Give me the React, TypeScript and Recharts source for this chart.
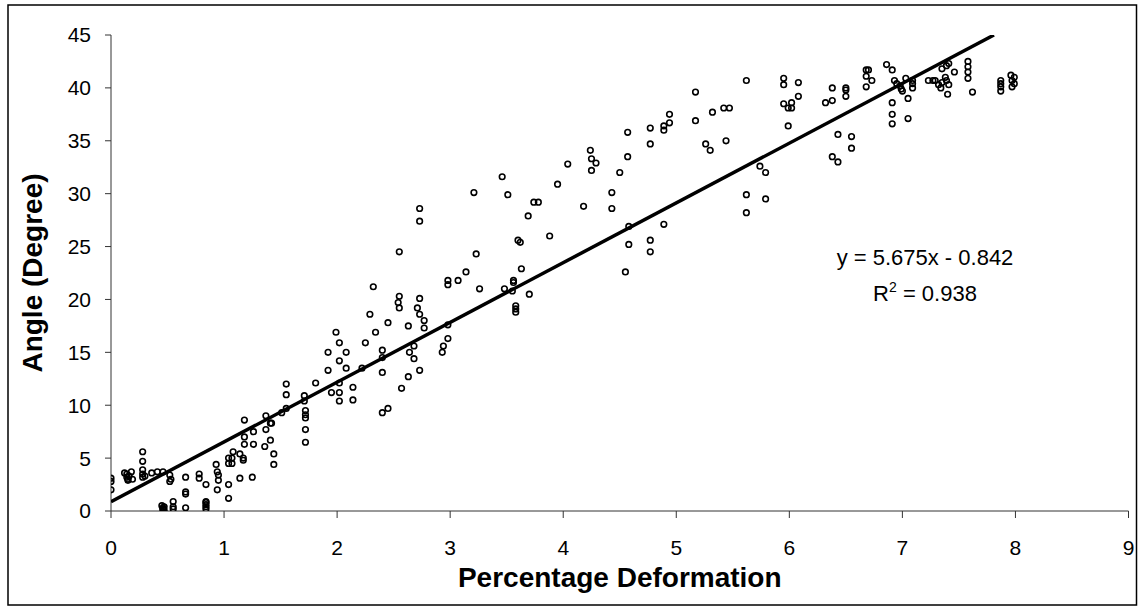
import React from "react";
import { ScatterChart, Scatter, XAxis, YAxis } from "recharts";

// [percentage deformation, angle in degrees]
const pointsLow: [number, number][] = [
  [0, 3.1], [0, 2.8], [0, 2.0],
  [0.12, 3.6], [0.14, 3.5], [0.14, 3.2], [0.15, 3.0], [0.16, 3.3], [0.15, 2.9], [0.18, 3.7], [0.19, 3.0],
  [0.28, 5.6], [0.28, 4.7], [0.28, 3.9], [0.28, 3.5], [0.28, 3.2], [0.30, 3.3],
  [0.36, 3.6], [0.41, 3.7], [0.46, 3.7], [0.52, 3.4], [0.53, 3.0], [0.52, 2.8],
  [0.46, 0.1], [0.46, 0.2], [0.46, 0.3], [0.47, 0.4], [0.45, 0.5], [0.47, 0.05],
  [0.55, 0.9], [0.55, 0.4], [0.55, 0.2],
  [0.66, 0.3], [0.66, 1.6], [0.66, 1.8], [0.66, 3.2],
  [0.78, 3.5], [0.78, 3.1], [0.84, 2.5],
  [0.84, 0.2], [0.84, 0.4], [0.84, 0.6], [0.84, 0.8], [0.84, 0.9],
  [0.93, 4.4], [0.94, 3.7], [0.95, 3.4], [0.95, 2.9], [0.94, 2.0],
];

const pointsMid: [number, number][] = [
  [1.04, 2.5], [1.04, 1.2], [1.04, 5.0], [1.04, 4.5], [1.07, 5.0], [1.07, 4.5], [1.08, 5.6],
  [1.14, 5.4], [1.14, 3.1], [1.17, 5.0], [1.17, 4.8], [1.18, 8.6], [1.18, 7.0], [1.18, 6.3],
  [1.25, 3.2], [1.26, 7.5], [1.26, 6.3],
  [1.37, 9.0], [1.37, 7.7], [1.36, 6.1], [1.41, 8.3], [1.42, 8.3], [1.41, 6.7], [1.44, 5.4], [1.44, 4.4],
  [1.51, 9.3], [1.55, 12.0], [1.55, 11.0], [1.55, 9.7],
  [1.71, 10.9], [1.71, 10.4], [1.72, 9.5], [1.72, 9.1], [1.72, 8.8], [1.72, 7.7], [1.72, 6.5],
  [1.81, 12.1], [1.92, 13.3], [1.92, 15.0], [1.95, 11.2], [1.99, 16.9],
  [2.02, 15.9], [2.02, 14.2], [2.02, 12.1], [2.02, 11.2], [2.02, 10.4], [2.08, 15.0], [2.08, 13.5],
  [2.14, 11.7], [2.14, 10.5], [2.22, 13.5], [2.25, 15.9], [2.29, 18.6], [2.32, 21.2], [2.34, 16.9],
  [2.40, 15.2], [2.40, 14.5], [2.40, 13.1], [2.40, 9.3], [2.45, 17.8], [2.45, 9.7],
  [2.55, 24.5], [2.55, 20.3], [2.54, 19.7], [2.55, 19.2], [2.57, 11.6], [2.63, 17.5], [2.63, 12.7],
  [2.64, 15.0], [2.68, 15.6], [2.68, 14.4], [2.73, 13.3], [2.73, 28.6], [2.73, 27.4], [2.73, 20.1],
  [2.71, 19.2], [2.73, 18.6], [2.77, 18.0], [2.77, 17.3],
  [2.93, 15.0], [2.94, 15.6], [2.98, 16.3], [2.98, 17.6], [2.98, 21.8], [2.98, 21.4],
];

const pointsUpperMid: [number, number][] = [
  [3.07, 21.8], [3.14, 22.6], [3.21, 30.1], [3.23, 24.3], [3.26, 21.0], [3.46, 31.6], [3.51, 29.9],
  [3.48, 21.0], [3.55, 20.8], [3.56, 21.8], [3.56, 21.6], [3.58, 19.4], [3.58, 19.1], [3.58, 18.8],
  [3.60, 25.6], [3.62, 25.4], [3.63, 22.9], [3.70, 20.5], [3.69, 27.9], [3.74, 29.2], [3.78, 29.2],
  [3.88, 26.0], [3.95, 30.9], [4.04, 32.8], [4.18, 28.8], [4.25, 33.3], [4.29, 32.9], [4.25, 32.2],
  [4.24, 34.1], [4.43, 30.1], [4.43, 28.6], [4.50, 32.0], [4.57, 33.5], [4.57, 35.8], [4.55, 22.6],
  [4.58, 25.2], [4.58, 26.9], [4.77, 36.2], [4.77, 34.7], [4.77, 25.6], [4.77, 24.5], [4.89, 27.1],
  [4.89, 36.4], [4.89, 36.0], [4.94, 37.5], [4.94, 36.7],
];

const pointsHigh: [number, number][] = [
  [5.17, 39.6], [5.17, 36.9], [5.26, 34.7], [5.30, 34.1], [5.32, 37.7], [5.44, 35.0], [5.42, 38.1],
  [5.47, 38.1], [5.62, 40.7], [5.62, 29.9], [5.62, 28.2], [5.74, 32.6], [5.79, 32.0], [5.79, 29.5],
  [5.95, 40.9], [5.95, 40.3], [6.08, 40.5], [6.08, 39.2], [5.95, 38.5], [5.99, 38.1], [6.02, 38.1],
  [6.02, 38.6], [5.99, 36.4], [6.32, 38.6], [6.38, 38.8], [6.38, 40.0], [6.43, 35.6], [6.38, 33.5],
  [6.43, 33.0], [6.50, 40.0], [6.50, 39.8], [6.50, 39.2], [6.55, 35.4], [6.55, 34.3],
  [6.68, 41.7], [6.70, 41.7], [6.68, 41.1], [6.73, 40.7], [6.68, 40.1], [6.86, 42.2], [6.91, 41.7],
  [6.91, 38.6], [6.91, 37.5], [6.91, 36.6], [6.93, 40.7], [6.95, 40.4], [6.98, 40.2], [6.99, 39.9],
  [7.00, 39.7], [7.03, 40.9], [7.09, 40.7], [7.09, 40.4], [7.09, 40.0], [7.05, 39.0], [7.05, 37.1],
  [7.23, 40.7], [7.27, 40.7], [7.29, 40.7], [7.32, 40.3], [7.34, 40.0], [7.35, 40.5], [7.35, 41.8],
  [7.38, 41.0], [7.39, 42.1], [7.41, 42.3], [7.39, 40.7], [7.41, 40.3], [7.40, 39.4], [7.46, 41.5],
  [7.58, 42.5], [7.58, 42.0], [7.58, 41.5], [7.58, 40.9], [7.62, 39.6],
  [7.87, 40.7], [7.87, 40.4], [7.87, 40.1], [7.87, 39.7], [7.96, 41.2], [7.99, 41.0], [7.97, 40.7],
  [7.99, 40.4], [7.97, 40.1],
];

// trend line as drawn (clipped at top of plot)
const trendX = [0, 7.81];
const trendY = [0.88, 45];

const xTicks = [0, 1, 2, 3, 4, 5, 6, 7, 8, 9];
const yTicks = [0, 5, 10, 15, 20, 25, 30, 35, 40, 45];

const xTitle = "Percentage Deformation";
const yTitle = "Angle (Degree)";
const equationText = "y = 5.675x - 0.842";
const rSquaredValue = "0.938";

const FONT = "'Liberation Sans', Arial, sans-serif";

const scatterData = [...pointsLow, ...pointsMid, ...pointsUpperMid, ...pointsHigh].map(([x, y]) => ({ x, y }));
const trendData = trendX.map((x, i) => ({ x, y: trendY[i] }));

const OpenCircle = (props: any) => {
  const { cx, cy } = props;
  if (cx == null || cy == null) return <g />;
  return <circle cx={cx} cy={cy} r={2.8} fill="none" stroke="#000" strokeWidth={1.6} />;
};

const NoShape = () => <g />;

const YTitle = (props: any) => {
  const vb = props.viewBox || {};
  const cx = vb.x - 19;
  const cy = vb.y + vb.height / 2;
  return (
    <text
      x={cx}
      y={cy}
      transform={`rotate(-90, ${cx}, ${cy})`}
      textAnchor="middle"
      dominantBaseline="central"
      fontFamily={FONT}
      fontWeight="bold"
      fontSize={28}
      fill="#000"
    >
      {yTitle}
    </text>
  );
};

const XTitle = (props: any) => {
  const vb = props.viewBox || {};
  return (
    <text
      x={vb.x + vb.width / 2}
      y={vb.y + 76}
      textAnchor="middle"
      fontFamily={FONT}
      fontWeight="bold"
      fontSize={28}
      fill="#000"
    >
      {xTitle}
    </text>
  );
};

export default function App() {
  return (
    <div style={{ position: "absolute", left: 0, top: 0, width: 1138, height: 607, background: "#fff" }}>
      <ScatterChart width={1138} height={607} margin={{ top: 35, right: 9.5, bottom: 16, left: 51 }}>
        <XAxis
          type="number"
          dataKey="x"
          domain={[0, 9]}
          ticks={xTicks}
          allowDataOverflow
          height={80}
          tickSize={7}
          tickMargin={22}
          axisLine={{ stroke: "#333", strokeWidth: 1 }}
          tickLine={{ stroke: "#333", strokeWidth: 1 }}
          tick={{ fill: "#000", fontSize: 21, fontFamily: FONT }}
          label={<XTitle />}
        />
        <YAxis
          type="number"
          dataKey="y"
          domain={[0, 45]}
          ticks={yTicks}
          allowDataOverflow
          width={60}
          tickSize={6}
          tickMargin={14}
          axisLine={{ stroke: "#333", strokeWidth: 1 }}
          tickLine={{ stroke: "#333", strokeWidth: 1 }}
          tick={{ fill: "#000", fontSize: 21, fontFamily: FONT }}
          label={<YTitle />}
        />
        <Scatter data={scatterData} shape={<OpenCircle />} isAnimationActive={false} />
        <Scatter
          data={trendData}
          shape={<NoShape />}
          line={{ stroke: "#000", strokeWidth: 3.5 }}
          lineType="joint"
          isAnimationActive={false}
        />
      </ScatterChart>
      <svg
        width={1138}
        height={607}
        style={{ position: "absolute", left: 0, top: 0, pointerEvents: "none" }}
      >
        <rect x={8} y={5} width={1128.5} height={600} fill="none" stroke="#000" strokeWidth={1.5} />
        <text x={925} y={265} textAnchor="middle" fontFamily={FONT} fontSize={22} fill="#000">
          {equationText}
        </text>
        <text x={925} y={301} textAnchor="middle" fontFamily={FONT} fontSize={22} fill="#000">
          R<tspan dy={-9} fontSize={14}>2</tspan>
          <tspan dy={9}>{" = " + rSquaredValue}</tspan>
        </text>
      </svg>
    </div>
  );
}
